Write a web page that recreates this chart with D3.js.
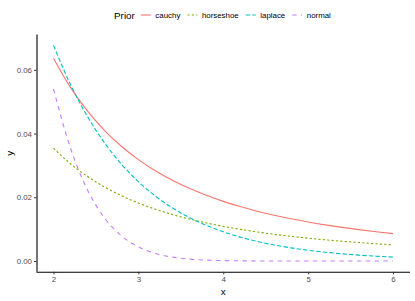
<!DOCTYPE html>
<html>
<head>
<meta charset="utf-8">
<script src="https://cdn.jsdelivr.net/npm/d3@7"></script>
<style>
  body { margin: 0; background: #fff; }
  svg { display: block; font-family: "Liberation Sans", Arial, sans-serif; }
</style>
</head>
<body>
<div id="chart"></div>
<script>
// x positions the curves were read at
var xs = [2, 2.2, 2.4, 2.6, 2.8, 3, 3.2, 3.4, 3.6, 3.8, 4, 4.2, 4.4, 4.6, 4.8, 5, 5.2, 5.4, 5.6, 5.8, 6];

var priors = ["cauchy", "horseshoe", "laplace", "normal"];
var colors = ["#F8766D", "#7CAE00", "#00BFC4", "#C77CFF"];
var dashes = [null, "2.2,2.2", "4.4,2.2", "4.4,4.4"];

var cauchy = [0.06366, 0.05450, 0.04709, 0.04102, 0.03601, 0.03183, 0.02832, 0.02534, 0.02280, 0.02062, 0.01872,
    0.01708, 0.01563, 0.01436, 0.01324, 0.01224, 0.01135, 0.01055, 0.00984, 0.00919, 0.00860];
var horseshoe = [0.03542, 0.03053, 0.02654, 0.02325, 0.02051, 0.01821, 0.01627, 0.01460, 0.01318, 0.01195, 0.01088,
    0.00994, 0.00912, 0.00839, 0.00775, 0.00717, 0.00666, 0.00620, 0.00579, 0.00541, 0.00507];
var laplace = [0.06767, 0.05540, 0.04536, 0.03714, 0.03041, 0.02489, 0.02038, 0.01669, 0.01366, 0.01118, 0.00916,
    0.00750, 0.00614, 0.00503, 0.00412, 0.00337, 0.00276, 0.00226, 0.00185, 0.00151, 0.00124];
var normal = [0.05399, 0.03547, 0.02239, 0.01358, 0.00792, 0.00443, 0.00238, 0.00123, 0.00061, 0.00029, 0.00013,
    0.00006, 0.00002, 0.00001, 0, 0, 0, 0, 0, 0, 0];

var xTicks = [2, 3, 4, 5, 6];
var yTicks = [0, 0.02, 0.04, 0.06];

var seriesValues = [cauchy, horseshoe, laplace, normal];

var width = 415, height = 301;
var margin = {left: 36.5, right: 5, top: 34.6, bottom: 29.2};

var svg = d3.select("#chart").append("svg").attr("width", width).attr("height", height);

// ggplot style 5% expansion
var xMin = d3.min(xs), xMax = d3.max(xs);
var xPad = (xMax - xMin) * 0.05;
var allY = [].concat(cauchy, horseshoe, laplace, normal);
var yMin = d3.min(allY), yMax = d3.max(allY);
var yPad = (yMax - yMin) * 0.05;

var x = d3.scaleLinear().domain([xMin - xPad, xMax + xPad]).range([margin.left, width - margin.right]);
var y = d3.scaleLinear().domain([yMin - yPad, yMax + yPad]).range([height - margin.bottom, margin.top]);

var line = d3.line()
    .x(function (d) { return x(d[0]); })
    .y(function (d) { return y(d[1]); })
    .curve(d3.curveMonotoneX);

var data = priors.map(function (p, i) {
    return {name: p, color: colors[i], dash: dashes[i], pts: xs.map(function (v, j) { return [v, seriesValues[i][j]]; })};
});

svg.append("g").selectAll("path").data(data).enter().append("path")
    .attr("d", function (d) { return line(d.pts); })
    .attr("fill", "none")
    .attr("stroke", function (d) { return d.color; })
    .attr("stroke-width", 1.1)
    .attr("stroke-dasharray", function (d) { return d.dash; });

// axes
var xAxis = svg.append("g")
    .attr("transform", "translate(0," + (height - margin.bottom) + ")")
    .call(d3.axisBottom(x).tickValues(xTicks).tickFormat(d3.format("d")).tickSize(2.5).tickPadding(2));
var yAxis = svg.append("g")
    .attr("transform", "translate(" + margin.left + ",0)")
    .call(d3.axisLeft(y).tickValues(yTicks).tickFormat(d3.format(".2f")).tickSize(2.5).tickPadding(2));

[xAxis, yAxis].forEach(function (a) {
    a.select(".domain").attr("stroke", "#000").attr("stroke-width", 1.1);
    a.selectAll(".tick line").attr("stroke", "#333").attr("stroke-width", 1);
    a.selectAll(".tick text").attr("fill", "#4d4d4d").style("font-size", "7.9px");
});
yAxis.select(".domain").attr("d", "M0.5," + y.range()[0] + "V" + y.range()[1]);
xAxis.select(".domain").attr("d", "M" + x.range()[0] + ",0.5H" + x.range()[1]);

svg.append("text").attr("x", (x.range()[0] + x.range()[1]) / 2).attr("y", 295)
    .attr("text-anchor", "middle").style("font-size", "9.9px").text("x");
svg.append("text").attr("transform", "translate(13," + ((y.range()[0] + y.range()[1]) / 2) + ") rotate(-90)")
    .attr("text-anchor", "middle").style("font-size", "9.9px").text("y");

// legend on top
var legend = svg.append("g").attr("transform", "translate(0,15)");
var lx = 114;
var title = legend.append("text").attr("x", lx).attr("y", 3.5).style("font-size", "9.9px").text("Prior");
lx += title.node().getComputedTextLength() + 6;
data.forEach(function (d) {
    legend.append("line").attr("x1", lx).attr("x2", lx + 10).attr("y1", 0).attr("y2", 0)
        .attr("stroke", d.color).attr("stroke-width", 1.1).attr("stroke-dasharray", d.dash);
    var t = legend.append("text").attr("x", lx + 14.5).attr("y", 2.8).style("font-size", "7.9px")
        .attr("fill", "#000").text(d.name);
    lx += 14.5 + t.node().getComputedTextLength() + 7;
});
</script>
</body>
</html>
